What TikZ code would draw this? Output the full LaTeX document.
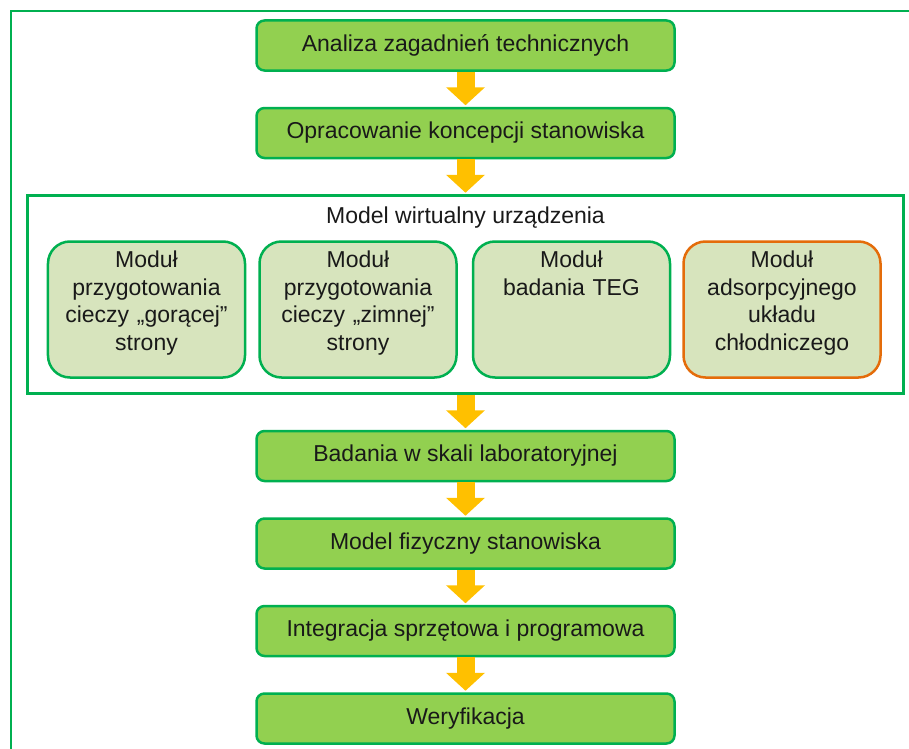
\documentclass[tikz,border=0pt]{standalone}
\usepackage{fontspec}
\setmainfont{Liberation Sans}
\usetikzlibrary{arrows.meta,positioning}

\definecolor{frgreen}{HTML}{00B050}
\definecolor{stepfill}{HTML}{92D050}
\definecolor{modfill}{HTML}{D7E4BD}
\definecolor{modorange}{HTML}{E46C0A}
\definecolor{arrowyel}{HTML}{FFC000}

\begin{document}
\begin{tikzpicture}[
 x=1bp,y=-1bp,
 node distance=35bp,
 stage/.style={draw=frgreen,line width=2.5bp,fill=stepfill,rounded corners=8bp,minimum width=418bp,minimum height=50bp,inner sep=0pt,text=black!90,font=\fontsize{23bp}{27.5bp}\selectfont},
 module/.style={draw=frgreen,line width=2.5bp,fill=modfill,rounded corners=22bp,minimum width=197bp,minimum height=136bp,text width=190bp,text depth=100bp,align=center,inner sep=0pt,text=black!90,font=\fontsize{23bp}{27.5bp}\selectfont},
 flow/.style={-{Triangle[width=38bp,length=18bp]},draw=arrowyel,fill=arrowyel,line width=18bp,shorten >=1.5bp}
]
\useasboundingbox (0,0) rectangle (909,749);
% outer frame, open to the right and below
\draw[frgreen,line width=2.5bp] (11,11) rectangle (925,765);

\node[stage] (analiza) at (465.5,45.5) {Analiza zagadnień technicznych};
\node[stage,below=of analiza] (koncepcja) {Opracowanie koncepcji stanowiska};
\node[draw=frgreen,line width=2.5bp,fill=white,minimum width=876bp,minimum height=198bp,inner sep=0pt,below=of koncepcja] (wirtualny) {};
\node[text=black!90,font=\fontsize{23bp}{27.5bp}\selectfont,below=9bp of wirtualny.north] (wirtTitle) {Model wirtualny urządzenia};

% the four modules of the virtual model
\node[module] (gorace) at (146.5,309.5) {Moduł\\przygotowania\\cieczy „gorącej”\\strony};
\node[module,right=12bp of gorace] (zimne) {Moduł\\przygotowania\\cieczy „zimnej”\\strony};
\node[module,right=14bp of zimne] (teg) {Moduł\\badania TEG\\\strut\\\strut};
\node[module,draw=modorange,right=11bp of teg] (adsorpcja) {Moduł\\adsorpcyjnego\\układu\\chłodniczego};

\node[stage,below=of wirtualny] (lab) {Badania w skali laboratoryjnej};
\node[stage,below=of lab] (fizyczny) {Model fizyczny stanowiska};
\node[stage,below=of fizyczny] (integracja) {Integracja sprzętowa i programowa};
\node[stage,below=of integracja] (weryfikacja) {Weryfikacja};

\draw[flow] (analiza)--(koncepcja);
\draw[flow] (koncepcja)--(wirtualny);
\draw[flow] (wirtualny.south-|lab)--(lab);
\draw[flow] (lab)--(fizyczny);
\draw[flow] (fizyczny)--(integracja);
\draw[flow] (integracja)--(weryfikacja);
\end{tikzpicture}
\end{document}
